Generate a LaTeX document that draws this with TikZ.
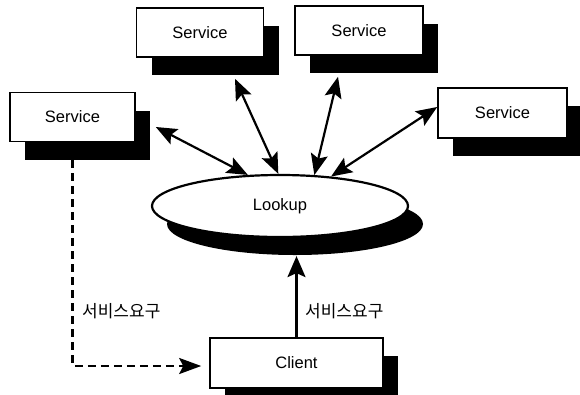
\documentclass[tikz,border=0pt]{standalone}
\usepackage{fontspec}
\setmainfont{Liberation Sans}
\newfontfamily\krfont{Noto Sans CJK KR}
\usetikzlibrary{shapes.geometric, arrows.meta, shadows}

\begin{document}
\begin{tikzpicture}[
        x=1pt, y=-1pt,
        shade/.style={drop shadow={shadow xshift=15pt, shadow yshift=-18pt, opacity=1, fill=black}},
        box/.style={draw, line width=1.6pt, fill=white, inner sep=0pt, minimum width=127pt, minimum height=49pt, font=\fontsize{16.5}{18}\selectfont, shade},
        lookupnode/.style={ellipse, draw, line width=2.2pt, fill=white, inner sep=0pt, minimum width=256pt, minimum height=62pt, font=\fontsize{16.5}{18}\selectfont, shade},
        link/.style={{Stealth[length=21pt, width=17pt, inset=4pt]}-{Stealth[length=21pt, width=17pt, inset=4pt]}, line width=2.2pt},
        arrow/.style={-{Stealth[length=21pt, width=18pt, inset=4pt]}, line width=2.2pt},
        dasharrow/.style={-{Stealth[length=22pt, width=16pt, inset=4pt]}, line width=2.2pt, dash pattern=on 8pt off 5pt},
        label/.style={font=\krfont\fontsize{17}{20}\selectfont, anchor=west, inner sep=0pt}
    ]
        \useasboundingbox (0,0) rectangle (580,394);

        % Services
        \node[box, minimum width=125pt] (svcL) at (72.5,117) {Service};
        \node[box] (svcA) at (200,32.5) {Service};
        \node[box, minimum width=128pt] (svcB) at (359,30.5) {Service};
        \node[box, minimum width=129pt, minimum height=50pt] (svcR) at (502.5,113) {Service};

        % Lookup
        \node[lookupnode] (lookup) at (280,206) {Lookup};

        % Client
        \node[box, minimum width=173pt, minimum height=50pt] (client) at (296.5,363) {Client};

        % Arrows
        \draw[link] ([shift={(20,10)}]svcL.east) -- (lookup.136);
        \draw[link] ([shift={(35,21)}]svcA.south) -- (lookup.93);
        \draw[link] ([shift={(-21,21)}]svcB.south) -- (lookup.42);
        \draw[link] ([yshift=6pt]svcR.west) -- (lookup.30);

        \coordinate (lookbot) at ([yshift=-18pt]lookup.south);
        \draw[arrow] (client.north) -- (client.north |- lookbot);
        \draw[dasharrow] ([yshift=-18pt]svcL.south) |- ([shift={(-8,3)}]client.west);

        % Labels
        \node[label] (reqL) at (82,311) {서비스요구};
        \node[label] (reqR) at (305,311) {서비스요구};
    \end{tikzpicture}
\end{document}
